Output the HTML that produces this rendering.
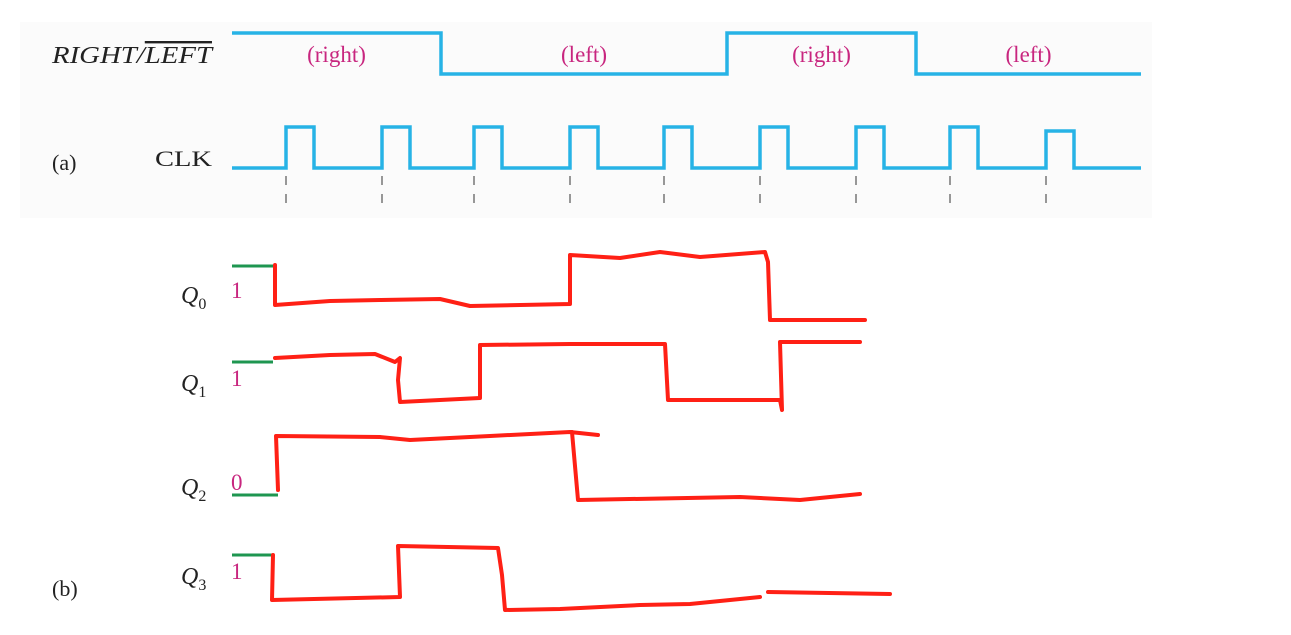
<!DOCTYPE html>
<html><head><meta charset="utf-8"><style>
body{margin:0;background:#fff;width:1291px;height:635px;overflow:hidden}
svg{display:block}
text{font-family:"Liberation Serif",serif}
</style></head><body>
<svg id="chart" width="1291" height="635" viewBox="0 0 1291 635">
<rect x="20" y="22" width="1132" height="196" fill="#fbfbfb"/>
<text x="52" y="63" font-size="24" font-style="italic" fill="#222" textLength="160" lengthAdjust="spacingAndGlyphs">RIGHT/<tspan text-decoration="overline">LEFT</tspan></text>
<text x="52" y="170" font-size="22" fill="#222">(a)</text>
<text x="155" y="166" font-size="22" fill="#222" textLength="57" lengthAdjust="spacingAndGlyphs">CLK</text>
<text x="52" y="596" font-size="22" fill="#222">(b)</text>
<g id="g"></g>
</svg>
<script>
const rlTransitions=[441,727,916];
const rlStartHigh=true;
const rlLabels=["(right)","(left)","(right)","(left)"];
const clkEdges=[286,382,474,570,664,760,856,950,1046];
const qNames=["0","1","2","3"];
const qInit=["1","1","0","1"];
const qInitLevelY=[266,362,495,555];
const qLabelY=[303,391,495,584];
const q0=[[275,265],[275,305],[330,301],[380,300],[440,299],[470,306],[570,304],[570,255],[620,258],[660,252],[700,257],[765,252],[768,262],[770,320],[865,320]];
const q1=[[275,358],[330,355],[375,354],[395,362],[400,358],[398,380],[400,402],[480,398],[480,345],[570,344],[665,344],[668,400],[780,400],[782,410],[780,342],[860,342]];
const q2=[[278,490],[276,436],[380,437],[410,440],[490,436],[570,432],[598,435]];
const q2b=[[572,432],[578,500],[740,497],[800,500],[860,494]];
const q3=[[273,555],[272,600],[400,597],[398,546],[498,548],[502,575],[505,610],[560,609],[640,605],[690,604],[760,597]];
const q3b=[[768,592],[890,594]];
const xStart=232,xEnd=1141,rlHi=33,rlLo=74,clkHi=127,clkLo=168,pw=28;
const NS="http://www.w3.org/2000/svg",g=document.getElementById('g');
function mk(t,a){const e=document.createElementNS(NS,t);for(const k in a)e.setAttribute(k,a[k]);g.appendChild(e);return e;}
let pts=[],lvl=rlStartHigh,xs=[xStart,...rlTransitions,xEnd];
for(let i=0;i<xs.length-1;i++){const y=lvl?rlHi:rlLo;pts.push([xs[i],y],[xs[i+1],y]);lvl=!lvl;}
let e=mk('polyline',{points:pts.join(' '),fill:'none',stroke:'#27b3e6','stroke-width':3.5});


rlLabels.forEach((s,i)=>{const t=mk('text',{x:(xs[i]+xs[i+1])/2,y:62,'font-size':23,fill:'#c8267f','text-anchor':'middle'});t.textContent=s;

});
pts=[[xStart,clkLo]];
clkEdges.forEach((x,i)=>{const hi=i==clkEdges.length-1?clkHi+4:clkHi;pts.push([x,clkLo],[x,hi],[x+pw,hi],[x+pw,clkLo]);
const d=mk('line',{x1:x,y1:clkLo+8,x2:x,y2:212,stroke:'#333','stroke-width':1,'stroke-dasharray':'9,9'});

});
pts.push([xEnd,clkLo]);
e=mk('polyline',{points:pts.join(' '),fill:'none',stroke:'#27b3e6','stroke-width':3.5});


qNames.forEach((n,i)=>{const t=mk('text',{x:181,y:qLabelY[i],'font-size':24,'font-style':'italic',fill:'#222'});
t.innerHTML='Q<tspan font-size="16" font-style="normal" dy="6">'+n+'</tspan>';


const v=mk('text',{x:231,y:qLabelY[i]-5,'font-size':23,fill:'#c8267f'});v.textContent=qInit[i];


const l=mk('line',{x1:232,y1:qInitLevelY[i],x2:i==2?278:273,y2:qInitLevelY[i],stroke:'#1e9650','stroke-width':3});

});
[[q0,'q0'],[q1,'q1'],[q2,'q2'],[q2b,'q2'],[q3,'q3'],[q3b,'q3']].forEach(([p,n])=>{
const r=mk('polyline',{points:p.join(' '),fill:'none',stroke:'#ff2015','stroke-width':4,'stroke-linejoin':'round','stroke-linecap':'round'});

});
</script>
</body></html>
